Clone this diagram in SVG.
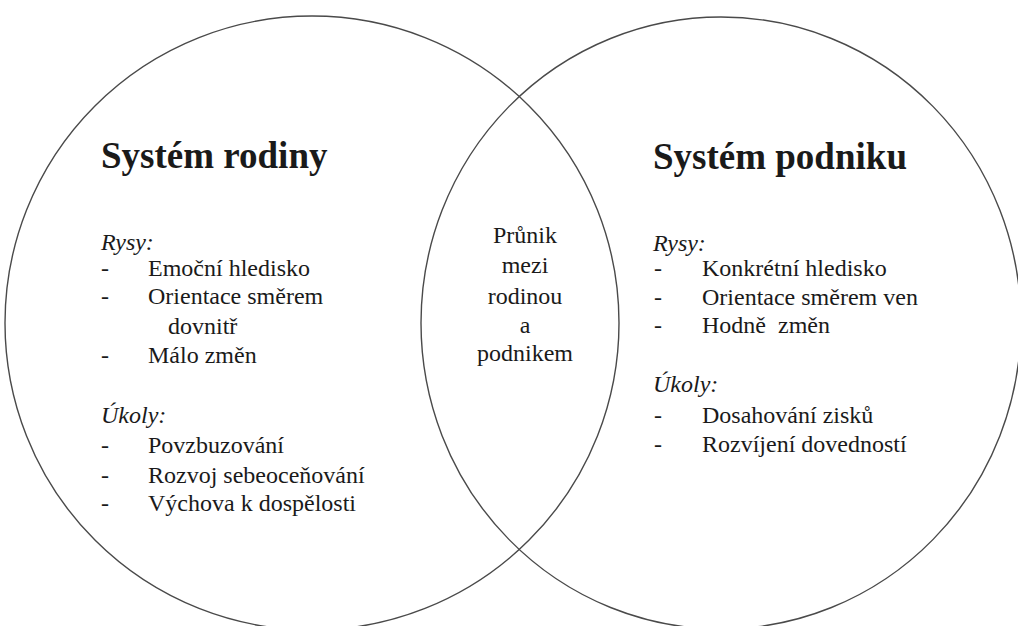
<svg xmlns="http://www.w3.org/2000/svg" width="1018" height="626" viewBox="0 0 1018 626">
<style>
.ring{fill:none;stroke:#4a4a4a;stroke-width:1.4}
.txt text{font-family:'Liberation Serif','DejaVu Serif',serif;fill:#1a1a1a}
.title{font-size:37px;font-weight:bold}
.body{font-size:24px}
.it{font-size:24px;font-style:italic}
.mid{font-size:24px;text-anchor:middle}
</style>
<rect width="1018" height="626" fill="#fff"/>
<g id="connectors"></g>
<g id="family" class="txt" font-family="Liberation Serif, DejaVu Serif, serif">
<ellipse class="ring" cx="312" cy="323" rx="307" ry="307"/>
<text class="title" x="101" y="168">Systém rodiny</text>
<text class="it" x="101" y="250">Rysy:</text>
<text class="body" x="101" y="276">-</text><text class="body" x="148" y="276">Emoční hledisko</text>
<text class="body" x="101" y="304">-</text><text class="body" x="148" y="304">Orientace směrem</text>
<text class="body" x="168" y="334">dovnitř</text>
<text class="body" x="101" y="363">-</text><text class="body" x="148" y="363">Málo změn</text>
<text class="it" x="101" y="423">Úkoly:</text>
<text class="body" x="101" y="453">-</text><text class="body" x="148" y="453">Povzbuzování</text>
<text class="body" x="101" y="483">-</text><text class="body" x="148" y="483">Rozvoj sebeoceňování</text>
<text class="body" x="101" y="511">-</text><text class="body" x="148" y="511">Výchova k dospělosti</text>
</g>
<g id="business" class="txt" font-family="Liberation Serif, DejaVu Serif, serif">
<ellipse class="ring" cx="721" cy="323" rx="300" ry="306"/>
<text class="title" x="653" y="169">Systém podniku</text>
<text class="it" x="653" y="251">Rysy:</text>
<text class="body" x="654" y="276">-</text><text class="body" x="702" y="276">Konkrétní hledisko</text>
<text class="body" x="654" y="305">-</text><text class="body" x="702" y="305">Orientace směrem ven</text>
<text class="body" x="654" y="333">-</text><text class="body" x="702" y="333" xml:space="preserve">Hodně  změn</text>
<text class="it" x="653" y="392">Úkoly:</text>
<text class="body" x="654" y="423">-</text><text class="body" x="702" y="423">Dosahování zisků</text>
<text class="body" x="654" y="452">-</text><text class="body" x="702" y="452">Rozvíjení dovedností</text>
</g>
<g id="overlap" class="txt" font-family="Liberation Serif, DejaVu Serif, serif">
<text class="mid" x="525" y="243">Průnik</text>
<text class="mid" x="525" y="273">mezi</text>
<text class="mid" x="525" y="304">rodinou</text>
<text class="mid" x="525" y="333">a</text>
<text class="mid" x="525" y="361">podnikem</text>
</g>
</svg>
